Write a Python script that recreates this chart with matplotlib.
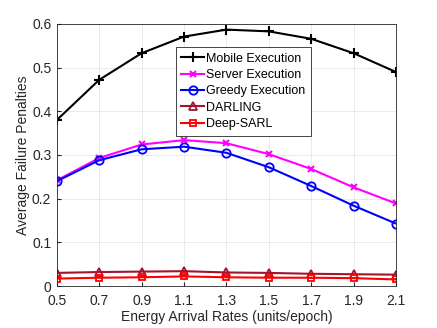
import matplotlib
matplotlib.use("Agg")
import matplotlib.pyplot as plt

plt.rcParams["font.family"] = ["Liberation Sans", "DejaVu Sans"]

# 能量到达率
rates = [0.5, 0.7, 0.9, 1.1, 1.3, 1.5, 1.7, 1.9, 2.1]
mobile = [0.380, 0.472, 0.533, 0.571, 0.587, 0.583, 0.566, 0.533, 0.490]
server = [0.242, 0.293, 0.324, 0.334, 0.327, 0.302, 0.268, 0.226, 0.189]
greedy = [0.240, 0.288, 0.313, 0.319, 0.305, 0.272, 0.229, 0.184, 0.143]
darling = [0.030, 0.032, 0.033, 0.034, 0.031, 0.030, 0.028, 0.027, 0.026]
deep_sarl = [0.017, 0.019, 0.020, 0.022, 0.020, 0.019, 0.019, 0.018, 0.015]

fig = plt.figure(figsize=(4.37, 3.28), dpi=100)
ax = fig.add_axes([0.130, 0.128, 0.776, 0.799])

ax.plot(rates, mobile, "k-+", lw=1.5, ms=7, mew=1.5, label="Mobile Execution")
ax.plot(rates, server, "-x", color="#ff00ff", lw=1.5, ms=5, mew=1.5, label="Server Execution")
ax.plot(rates, greedy, "-o", color="#0000ff", lw=1.5, ms=6, mew=1.3, mfc="none", label="Greedy Execution")
ax.plot(rates, darling, "-^", color="#a2142f", lw=1.5, ms=6, mew=1.3, mfc="none", label="DARLING")
ax.plot(rates, deep_sarl, "-s", color="#ff0000", lw=1.5, ms=5, mew=1.3, mfc="none", label="Deep-SARL")

ax.set_xlim(0.5, 2.1)
ax.set_ylim(0, 0.6)
ax.set_xticks(rates)
ax.set_xticklabels(["0.5", "0.7", "0.9", "1.1", "1.3", "1.5", "1.7", "1.9", "2.1"])
ax.set_yticks([0, 0.1, 0.2, 0.3, 0.4, 0.5, 0.6])
ax.set_yticklabels(["0", "0.1", "0.2", "0.3", "0.4", "0.5", "0.6"])
ax.tick_params(direction="in", labelsize=10, colors="#262626", length=3)
ax.tick_params(axis="x", pad=6)
ax.tick_params(axis="y", pad=4)
ax.grid(True, color="#e6e6e6", lw=0.6)
for s in ax.spines.values():
    s.set_color("#262626")
    s.set_linewidth(0.6)

ax.set_xlabel("Energy Arrival Rates (units/epoch)", fontsize=10, color="#262626", labelpad=1.5)
ax.set_ylabel("Average Failure Penalties", fontsize=10, color="#262626", labelpad=1)

leg = ax.legend(loc="upper left", bbox_to_anchor=(0.351, 0.912), fontsize=9,
                fancybox=False, framealpha=1, edgecolor="#262626",
                handlelength=1.8, handletextpad=0.2, borderpad=0.45, labelspacing=0.35,
                borderaxespad=0)
leg.get_frame().set_linewidth(0.6)

fig.savefig("out.png", dpi=100)
